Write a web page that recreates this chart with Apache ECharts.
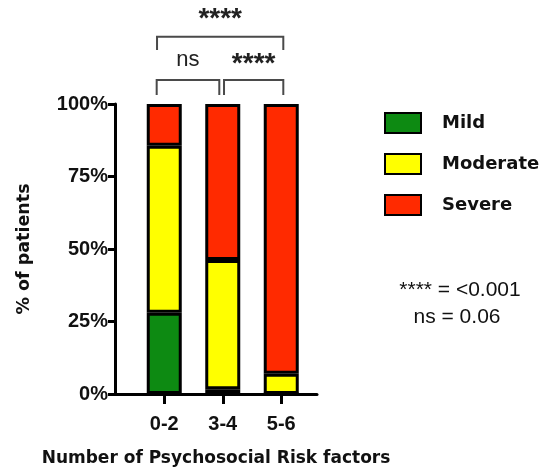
<!DOCTYPE html>
<html>
<head>
<meta charset="utf-8">
<script src="https://cdn.jsdelivr.net/npm/echarts@6/dist/echarts.min.js"></script>
<style>
  html, body { margin: 0; padding: 0; background: #fff; }
  #chart { width: 546px; height: 467px; }
</style>
</head>
<body>
<div id="chart"></div>
<script>
// Number of psychosocial risk factors
const categories = ['0-2', '3-4', '5-6'];

// Share of patients by severity, in percent
const mild = [28, 1.6, 0];
const moderate = [57.6, 44.6, 7];
const severe = [14.4, 53.8, 93];

const seriesNames = ['Mild', 'Moderate', 'Severe'];
const seriesColors = ['#0d8a12', '#ffff00', '#ff2a00'];

// Significance brackets, in frame units (bar k sits at k + 1)
const brackets = [
  { from: 0.883, to: 1.957, top: 108.3, foot: 103.1, label: 'ns', labelY: 115.2, bold: false },
  { from: 2.038, to: 3.055, top: 108.3, foot: 103.1, label: '****', labelY: 113.8, bold: true },
  { from: 0.889, to: 3.055, top: 123.2, foot: 118.6, label: '****', labelY: 129.3, bold: true }
];
const noteLines = ['**** = <0.001', 'ns = 0.06'];

const chart = echarts.init(document.getElementById('chart'), null, { renderer: 'canvas' });

const seriesData = [mild, moderate, severe];
const axisFont = { fontFamily: 'Liberation Sans', fontWeight: 'bold', fontSize: 20, color: '#111' };

const option = {
  backgroundColor: '#ffffff',
  animation: false,
  grid: [
    // bars
    { left: 135, top: 104, width: 175.5, height: 290, containLabel: false, outerBoundsMode: 'none' },
    // axis frame, a little wider than the bar area
    { left: 115, top: 104, width: 202, height: 290, containLabel: false, outerBoundsMode: 'none' }
  ],
  legend: {
    orient: 'vertical',
    left: 384,
    top: 112,
    itemWidth: 36,
    itemHeight: 20,
    itemGap: 19,
    padding: 0,
    icon: 'rect',
    data: seriesNames,
    textStyle: {
      fontFamily: 'DejaVu Sans',
      fontWeight: 'bold',
      fontSize: 18,
      color: '#111',
      padding: [0, 0, 0, 16]
    }
  },
  xAxis: [
    {
      gridIndex: 0,
      type: 'category',
      data: categories,
      boundaryGap: true,
      axisLine: { show: false },
      splitLine: { show: false },
      axisTick: { show: true, alignWithLabel: true, length: 10, lineStyle: { color: '#000', width: 3 } },
      axisLabel: Object.assign({ margin: 20 }, axisFont)
    },
    {
      gridIndex: 1,
      type: 'value',
      min: 0.168,
      max: 3.633,
      name: 'Number of Psychosocial Risk factors',
      nameLocation: 'middle',
      nameGap: 56,
      nameTextStyle: { fontFamily: 'DejaVu Sans', fontWeight: 'bold', fontSize: 17, color: '#111' },
      splitLine: { show: false },
      axisTick: { show: false },
      axisLabel: { show: false },
      axisLine: { show: true, onZero: false, lineStyle: { color: '#000', width: 3 } }
    }
  ],
  yAxis: [
    {
      gridIndex: 0,
      type: 'value',
      min: 0,
      max: 100,
      show: false
    },
    {
      gridIndex: 1,
      type: 'value',
      min: 0,
      max: 100,
      interval: 25,
      name: '% of patients',
      nameLocation: 'middle',
      nameGap: 82,
      nameTextStyle: { fontFamily: 'DejaVu Sans', fontWeight: 'bold', fontSize: 17.5, color: '#111' },
      splitLine: { show: false },
      axisLine: { show: true, lineStyle: { color: '#000', width: 3 } },
      axisTick: { show: true, length: 7, lineStyle: { color: '#000', width: 3 } },
      axisLabel: Object.assign({ formatter: '{value}%', margin: 7 }, axisFont)
    }
  ],
  series: seriesNames.map((name, k) => ({
    name,
    type: 'bar',
    stack: 'total',
    xAxisIndex: 0,
    yAxisIndex: 0,
    barWidth: 35,
    data: seriesData[k],
    itemStyle: { color: seriesColors[k], borderColor: '#000', borderWidth: 3 }
  }))
};

chart.setOption(option);

// Brackets and notes are placed through the frame axes
function drawAnnotations() {
  const els = [];
  const px = (x, y) => chart.convertToPixel({ xAxisIndex: 1, yAxisIndex: 1 }, [x, y]);
  brackets.forEach(b => {
    const a = px(b.from, b.foot), c = px(b.from, b.top), d = px(b.to, b.top), e = px(b.to, b.foot);
    els.push({
      type: 'polyline',
      shape: { points: [a, c, d, e] },
      style: { stroke: '#4a4a4a', lineWidth: 2, fill: null }
    });
    const t = px((b.from + b.to) / 2, b.labelY);
    els.push({
      type: 'text',
      x: t[0], y: t[1],
      style: {
        text: b.label,
        align: 'center',
        verticalAlign: 'middle',
        fontFamily: 'Liberation Sans',
        fontWeight: b.bold ? 'bold' : 'normal',
        fontSize: b.bold ? 28 : 22,
        fill: '#222'
      }
    });
  });
  noteLines.forEach((line, i) => {
    els.push({
      type: 'text',
      x: i === 0 ? 460 : 457,
      y: i === 0 ? 290 : 317,
      style: {
        text: line,
        align: 'center',
        verticalAlign: 'middle',
        fontFamily: 'Liberation Sans',
        fontSize: 21,
        fill: '#111'
      }
    });
  });
  chart.setOption({ graphic: els });
}
drawAnnotations();
</script>
</body>
</html>
